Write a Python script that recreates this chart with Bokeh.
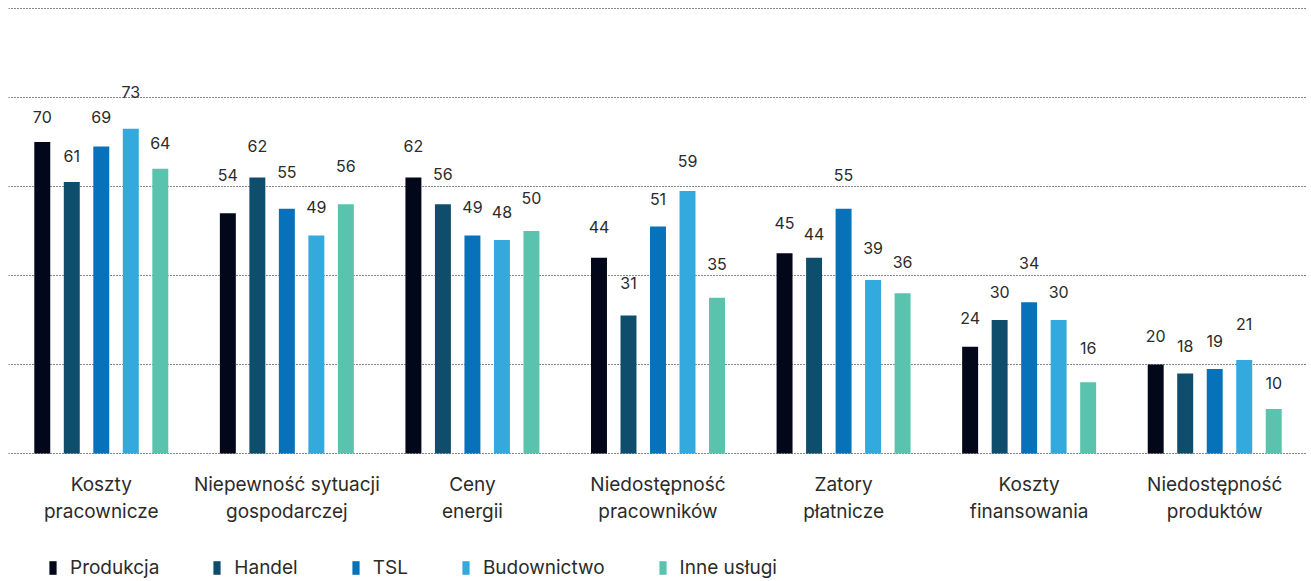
from bokeh.plotting import figure
from bokeh.layouts import column
from bokeh.models import (ColumnDataSource, FixedTicker, Legend, LegendItem,
                          Range1d)
from bokeh.core.properties import value
from bokeh.embed import file_html
from bokeh.resources import INLINE

# --- data -------------------------------------------------------------
categories = [
    "Koszty\npracownicze",
    "Niepewność sytuacji\ngospodarczej",
    "Ceny\nenergii",
    "Niedostępność\npracowników",
    "Zatory\npłatnicze",
    "Koszty\nfinansowania",
    "Niedostępność\nproduktów",
]
series_names = ["Produkcja", "Handel", "TSL", "Budownictwo", "Inne usługi"]

produkcja = [70, 54, 62, 44, 45, 24, 20]
handel = [61, 62, 56, 31, 44, 30, 18]
tsl = [69, 55, 49, 51, 55, 34, 19]
budownictwo = [73, 49, 48, 59, 39, 30, 21]
inne_uslugi = [64, 56, 50, 35, 36, 16, 10]

y_ticks = [0, 20, 40, 60, 80, 100]

# --- styling ----------------------------------------------------------
colors = ["#03071a", "#0f4d6d", "#0772ba", "#33a9de", "#59c3ae"]
dodges = [-0.318, -0.159, 0.0, 0.159, 0.318]
bar_width = 0.086
# how far (px) each value label sits above its bar, per series
label_lift = [
    [25, 38, 32, 31, 30, 29, 29],
    [26, 32, 30, 33, 24, 28, 27],
    [29, 37, 28, 28, 34, 39, 28],
    [37, 28, 28, 30, 32, 28, 36],
    [26, 38, 33, 34, 31, 34, 26],
]
FONT = "Inter"
TEXT_COLOR = "#2b2b2b"
W = 1311
CHART_H = 545
LEGEND_H = 36
PX_PER_UNIT = 4.45   # 20 units -> 89 px, keeps grid lines on whole pixels

series_values = [produkcja, handel, tsl, budownictwo, inne_uslugi]
positions = list(range(len(categories)))

# --- bar chart ----------------------------------------------------------
# one spare pixel above 100 and below 0 so both edge grid lines are drawn
p = figure(
    width=W, height=CHART_H,
    x_range=Range1d(-0.5, len(categories) - 0.5),
    y_range=Range1d(-1 / PX_PER_UNIT, 446 / PX_PER_UNIT),
    output_backend="svg", toolbar_location=None,
    min_border_left=8, min_border_right=4,
    min_border_top=7, min_border_bottom=CHART_H - 454,
)

for k, vals in enumerate(series_values):
    src = ColumnDataSource(dict(
        x=[i + dodges[k] for i in positions],
        val=vals,
        txt=[str(v) for v in vals],
        lift=[-d for d in label_lift[k]],
    ))
    p.vbar(x="x", top="val", width=bar_width, source=src,
           color=colors[k], line_color=None)
    p.text(x="x", y="val", text="txt", y_offset="lift", source=src,
           text_align="center", text_baseline="middle",
           text_font=value(FONT), text_font_size="16px",
           text_color=TEXT_COLOR)

p.yaxis.visible = False
xa = p.xaxis[0]
xa.ticker = FixedTicker(ticks=positions)
xa.major_label_overrides = {i: lab for i, lab in zip(positions, categories)}
xa.axis_line_color = None
xa.major_tick_line_color = None
xa.minor_tick_line_color = None
xa.major_tick_out = 0
xa.major_tick_in = 0
xa.major_label_standoff = 18
xa.major_label_text_font = FONT
xa.major_label_text_font_size = "19px"
xa.major_label_text_color = TEXT_COLOR

p.xgrid.grid_line_color = None
p.ygrid.ticker = FixedTicker(ticks=y_ticks)
p.ygrid.grid_line_color = "#111111"
p.ygrid.grid_line_dash = "1 2"
p.ygrid.grid_line_width = 1
p.outline_line_color = None

# --- legend strip -------------------------------------------------------
lg = figure(
    width=W, height=LEGEND_H,
    x_range=Range1d(0, 1), y_range=Range1d(0, 1),
    x_axis_type=None, y_axis_type=None,
    output_backend="svg", toolbar_location=None,
    min_border_left=0, min_border_right=0,
    min_border_top=0, min_border_bottom=0,
)
lg.grid.visible = False
lg.outline_line_color = None

items = []
for name, c in zip(series_names, colors):
    # zero-height swatch source: only the legend entry is drawn
    r = lg.vbar(x=[0.5], top=[0], width=0.1, color=c, line_color=None)
    items.append(LegendItem(label=name, renderers=[r]))

legend = Legend(
    items=items, orientation="horizontal", location=(40, 2),
    glyph_width=9, glyph_height=17, label_height=17, label_standoff=13,
    spacing=53, padding=0, margin=0,
    label_text_font=FONT, label_text_font_size="19px",
    label_text_color=TEXT_COLOR,
    border_line_color=None, background_fill_alpha=0,
)
lg.add_layout(legend, "center")

open("out.html", "w").write(file_html(column(p, lg, spacing=0), INLINE))
